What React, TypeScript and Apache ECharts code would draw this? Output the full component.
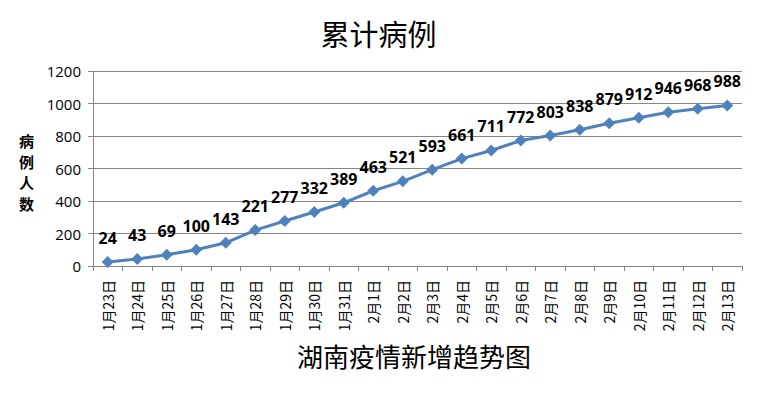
import React, { useEffect, useRef } from "react";
import * as echarts from "echarts";

const categories = [
  "1月23日", "1月24日", "1月25日", "1月26日", "1月27日", "1月28日", "1月29日", "1月30日", "1月31日",
  "2月1日", "2月2日", "2月3日", "2月4日", "2月5日", "2月6日", "2月7日", "2月8日", "2月9日",
  "2月10日", "2月11日", "2月12日", "2月13日",
];
const cumulativeCases = [24, 43, 69, 100, 143, 221, 277, 332, 389, 463, 521, 593, 661, 711, 772, 803, 838, 879, 912, 946, 968, 988];
const chartTitle = "累计病例";
const yAxisName = "病例人数";
const xAxisName = "湖南疫情新增趋势图";

export default function App() {
  const ref = useRef<HTMLDivElement>(null);
  useEffect(() => {
    document.body.style.margin = "0";
    if (!ref.current) return;
    const chart = echarts.init(ref.current, null, { renderer: "svg" });
    chart.setOption({
      animation: false,
      backgroundColor: "#ffffff",
      title: {
        text: chartTitle,
        left: "center",
        top: 13,
        textStyle: { fontFamily: "'Noto Sans CJK SC'", fontWeight: "normal", fontSize: 29, color: "#000" },
      },
      graphic: [
        {
          type: "text",
          left: 19,
          top: 130,
          style: {
            text: yAxisName.split("").join("\n"),
            font: "bold 15px 'Noto Sans CJK SC'",
            lineHeight: 21,
            fill: "#000",
            textAlign: "center",
          },
        },
        {
          type: "text",
          left: 297,
          top: 342,
          style: {
            text: xAxisName,
            font: "26px 'Noto Sans CJK SC'",
            fill: "#000",
          },
        },
      ],
      grid: { left: 93, right: 15, top: 71, bottom: 127 },
      xAxis: {
        type: "category",
        data: categories,
        boundaryGap: true,
        axisLine: { lineStyle: { color: "#868686", width: 1 } },
        axisTick: { show: true, alignWithLabel: false, length: 5, lineStyle: { color: "#868686" } },
        axisLabel: {
          rotate: 90,
          interval: 0,
          fontSize: 14,
          fontFamily: "'Noto Sans CJK SC'",
          color: "#000",
          margin: 14,
        },
      },
      yAxis: {
        type: "value",
        min: 0,
        max: 1200,
        interval: 200,
        axisLine: { show: true, lineStyle: { color: "#868686" } },
        axisTick: { show: true, length: 5, lineStyle: { color: "#868686" } },
        splitLine: { lineStyle: { color: "#868686", width: 1 } },
        axisLabel: {
          fontSize: 15,
          fontFamily: "'Open Sans', sans-serif",
          color: "#000",
          margin: 12,
          formatter: (v: number) => String(v),
        },
      },
      series: [
        {
          type: "line",
          data: cumulativeCases,
          symbol: "diamond",
          symbolSize: 12,
          lineStyle: { color: "#4F81BD", width: 3 },
          itemStyle: { color: "#4F81BD" },
          label: {
            show: true,
            position: "top",
            distance: 10,
            fontSize: 16,
            fontWeight: "bold",
            fontFamily: "'Open Sans', sans-serif",
            color: "#000",
          },
        },
      ],
    });
    return () => chart.dispose();
  }, []);
  return <div ref={ref} style={{ width: 757, height: 393 }} />;
}
